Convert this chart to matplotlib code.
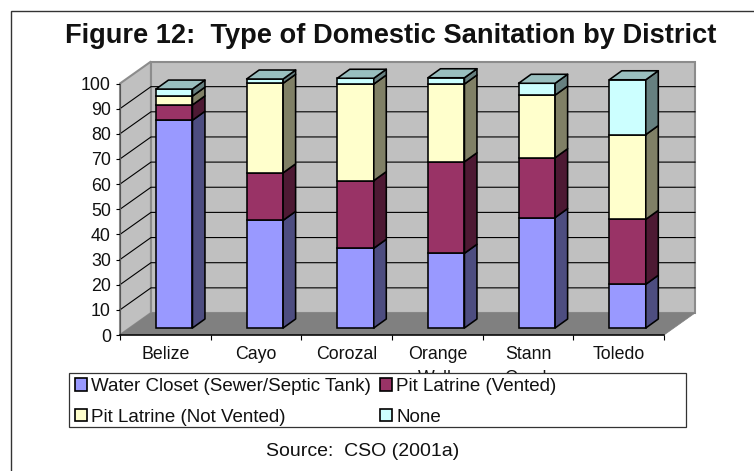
import matplotlib
matplotlib.use("Agg")
import matplotlib.pyplot as plt
from matplotlib.patches import Rectangle, Patch
from matplotlib.lines import Line2D

W, H = 754, 471
districts = ["Belize", "Cayo", "Corozal", "Orange\nWalk", "Stann\nCreek", "Toledo"]
water_closet = [82.6, 42.8, 31.7, 29.7, 43.9, 17.4]
pit_vented = [6.1, 18.9, 26.9, 36.4, 23.8, 25.8]
pit_not_vented = [3.5, 35.6, 38.4, 30.9, 24.9, 33.7]
none_type = [2.8, 1.7, 2.3, 2.5, 4.7, 21.8]
series_names = ["Water Closet (Sewer/Septic Tank)", "Pit Latrine (Vented)",
                "Pit Latrine (Not Vented)", "None"]
front = ["#9999FF", "#993366", "#FFFFCC", "#CCFFFF"]
side = ["#4D4D80", "#4D1933", "#808066", "#668080"]
top_face = "#99BFBF"
y_ticks = list(range(0, 101, 10))

plt.rcParams["font.family"] = ["Liberation Sans", "DejaVu Sans"]
fig = plt.figure(figsize=(W / 100, H / 100), dpi=100, facecolor="white")
ax = fig.add_axes([120 / W, 1 - 335 / H, 544 / W, 251.5 / H])
ax.set_xlim(0, 6)
ax.set_ylim(0, 100)
ax.patch.set_visible(False)

px = 6 / 544      # data units per pixel, x
py = 100 / 251.5  # data units per pixel, y
wdx, wdy = 31 * px, 22 * py      # depth of the wall box
bdx, bdy = 12.5 * px, 9 * py     # depth of each bar
bar_x = 36 * px + 18.2 * px      # offset of bar centre inside category
bar_w = 36.5 * px
base = 7 * py

wall_edge = "#8C8C8C"
# left wall, back wall, floor
ax.fill([0, wdx, wdx, 0], [0, wdy, 100 + wdy, 100], facecolor="#C0C0C0",
        edgecolor=wall_edge, lw=1.5, clip_on=False, zorder=1)
ax.fill([wdx, 6 + wdx, 6 + wdx, wdx], [wdy, wdy, 100 + wdy, 100 + wdy],
        facecolor="#C0C0C0", edgecolor=wall_edge, lw=1.5, clip_on=False, zorder=1)
ax.fill([0, wdx, 6 + wdx, 6], [0, wdy, wdy, 0], facecolor="#808080",
        edgecolor="#808080", lw=0.5, clip_on=False, zorder=1.5)
# gridlines
for v in y_ticks[1:-1]:
    ax.plot([0, wdx, 6 + wdx], [v, v + wdy, v + wdy], color="black", lw=0.8,
            clip_on=False, zorder=1.2, solid_joinstyle="miter")

series = [water_closet, pit_vented, pit_not_vented, none_type]
positions = [i + bar_x for i in range(len(districts))]
bottoms = [base] * len(districts)
for s, values in enumerate(series):
    ax.bar(positions, values, bar_w, bottom=bottoms, color=front[s],
           edgecolor="black", linewidth=1.15, clip_on=False, zorder=3)
    for i, v in enumerate(values):
        x1 = positions[i] + bar_w / 2
        b, t = bottoms[i], bottoms[i] + v
        ax.fill([x1, x1 + bdx, x1 + bdx, x1], [b, b + bdy, t + bdy, t],
                facecolor=side[s], edgecolor="black", lw=1.15, clip_on=False,
                zorder=3, joinstyle="round")
        if s == len(series) - 1:
            x0 = positions[i] - bar_w / 2
            ax.fill([x0, x1, x1 + bdx, x0 + bdx], [t, t, t + bdy, t + bdy],
                    facecolor=top_face, edgecolor="black", lw=1.15, clip_on=False,
                    zorder=3, joinstyle="round")
    bottoms = [b + v for b, v in zip(bottoms, values)]

for name in ("top", "right"):
    ax.spines[name].set_visible(False)
ax.spines["bottom"].set_linewidth(1.1)
ax.spines["left"].set_linewidth(0.8)
ax.spines["left"].set_color("#555555")
ax.spines["left"].set_zorder(2)
ax.set_yticks(y_ticks)
ax.set_xticks(range(len(districts) + 1))
ax.set_xticklabels([])
ax.set_xticks([i + 0.5 for i in range(len(districts))], minor=True)
ax.set_xticklabels(districts, minor=True, fontsize=12.8, color="#111111", linespacing=1.5)
ax.tick_params(axis="x", which="major", length=3.6, width=0.8)
ax.tick_params(axis="x", which="minor", length=0, pad=8)
ax.tick_params(axis="y", length=3, width=0.8, labelsize=12.8, pad=3.5, labelcolor="#111111")

fig.text(391 / W, 1 - 43 / H, "Figure 12:  Type of Domestic Sanitation by District",
         ha="center", va="baseline", fontsize=19.6, fontweight="bold", color="#111111")
fig.text(363 / W, 1 - 456 / H, "Source:  CSO (2001a)", ha="center", va="baseline",
         fontsize=14, color="#111111")

# outer left/top rules
fig.add_artist(Line2D([10.5 / W, 10.5 / W, 1], [0, 1 - 11 / H, 1 - 11 / H],
                      color="#333333", lw=1.0, solid_joinstyle="miter"))

# legend box covers the second line of long tick labels
fig.add_artist(Rectangle((69 / W, 1 - 427 / H), 617 / W, 54 / H, transform=fig.transFigure,
                         facecolor="white", edgecolor="#333333", lw=0.9, zorder=4))
handles = [Patch(facecolor=front[k], edgecolor="black", linewidth=1.2) for k in (0, 2, 1, 3)]
labels = [series_names[k] for k in (0, 2, 1, 3)]
fig.legend(handles, labels, ncols=2, loc="upper left", frameon=False,
           bbox_to_anchor=(75 / W, 1 - 378 / H), bbox_transform=fig.transFigure,
           borderpad=0, borderaxespad=0, fontsize=13.5, handlelength=0.64, handleheight=0.64,
           handletextpad=0.22, columnspacing=0.5, labelspacing=0.72,
           labelcolor="#111111").set_zorder(5)

fig.savefig("out.png", dpi=100)
